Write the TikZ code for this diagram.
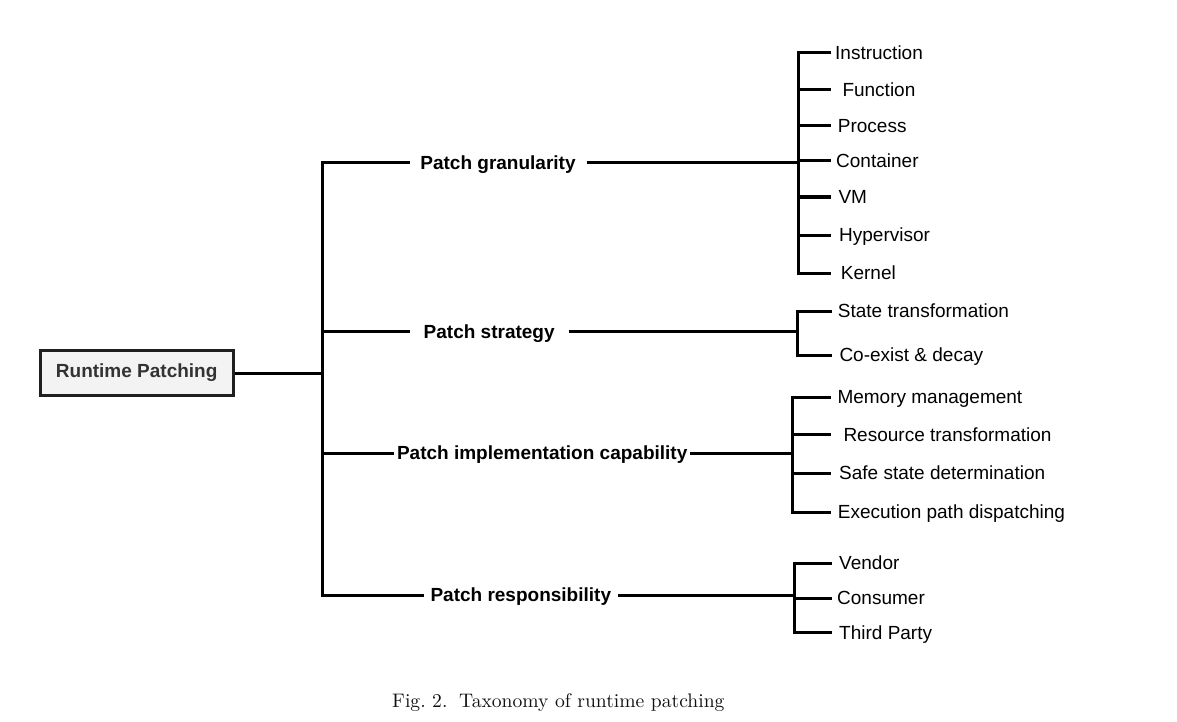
\documentclass[tikz,border=0pt]{standalone}
\usepackage{fontspec}
\setsansfont{Liberation Sans}
\newfontfamily\capfont{lmroman10-regular}[Extension=.otf]
\definecolor{boxfill}{HTML}{F3F3F3}
\definecolor{rootgray}{HTML}{333333}
\definecolor{capcol}{HTML}{111111}
\begin{document}
\begin{tikzpicture}[x=1pt,y=-1pt,
  line/.style={line width=3pt, black},
  cat/.style={font=\sffamily\bfseries\fontsize{19}{22}\selectfont, inner ysep=0pt, text height=13.6pt, text depth=0pt},
  leaf/.style={font=\sffamily\fontsize{19}{22}\selectfont, anchor=west, inner ysep=0pt, inner xsep=#1, text height=13.6pt, text depth=0pt},
  leaf/.default=5pt]
\useasboundingbox (0,0) rectangle (1177,722);

% root
\node[draw=black!88, line width=3pt, fill=boxfill, minimum width=193.3pt, minimum height=45pt,
      inner sep=0pt, text=rootgray, font=\sffamily\bfseries\fontsize{19}{22}\selectfont]
      (root) at (136.7,373) {Runtime Patching};

% category nodes
\node[cat, inner xsep=10.7pt] (c1) at (498,162.5) {Patch granularity};
\node[cat, inner xsep=14pt]   (c2) at (489.2,331.7) {Patch strategy};
\node[cat, inner xsep=2.85pt] (c3) at (542.2,453) {Patch implementation capability};
\node[cat, inner xsep=6.65pt] (c4) at (520.8,595) {Patch responsibility};

% junction x-positions
\coordinate (tk) at (322.3,0);
\coordinate (b1) at (798,0);
\coordinate (b2) at (797.7,0);
\coordinate (b3) at (792.3,0);
\coordinate (b4) at (794,0);

% trunk
\draw[line] (c1.west) -- (c1.west -| tk) -- (c4.west -| tk) -- (c4.west);
\draw[line] (c2.west -| tk) -- (c2.west);
\draw[line] (c3.west -| tk) -- (c3.west);
\draw[line] (root.east) -- (root.east -| tk);

% granularity leaves
\node[leaf=4pt]   (g1) at (831,53)    {Instruction};
\node[leaf=11.3pt](g2) at (831,89.3)  {Function};
\node[leaf=6.7pt] (g3) at (831,126)   {Process};
\node[leaf=5pt]   (g4) at (831,161)   {Container};
\node[leaf=7.3pt] (g5) at (831,197)   {VM};
\node[leaf=8pt]   (g6) at (831,235)   {Hypervisor};
\node[leaf=9.7pt] (g7) at (831,273)   {Kernel};

\draw[line] (c1.east) -- (c1.east -| b1);
\draw[line] (g1.west) -- (g1.west -| b1) -- (g7.west -| b1) -- (g7.west);
\foreach \n in {g2,g3,g4,g5,g6} \draw[line] (\n.west -| b1) -- (\n.west);

% strategy leaves
\node[leaf=5.7pt] (s1) at (832,311)   {State transformation};
\node[leaf=7.3pt] (s2) at (832,355)   {Co-exist \& decay};

\draw[line] (c2.east) -- (c2.east -| b2);
\draw[line] (s1.west) -- (s1.west -| b2) -- (s2.west -| b2) -- (s2.west);

% implementation leaves
\node[leaf=6.3pt]  (m1) at (831,397)   {Memory management};
\node[leaf=12.3pt] (m2) at (831,434.5) {Resource transformation};
\node[leaf=8pt]    (m3) at (831,473)   {Safe state determination};
\node[leaf=6.7pt]  (m4) at (831,512)   {Execution path dispatching};

\draw[line] (c3.east) -- (c3.east -| b3);
\draw[line] (m1.west) -- (m1.west -| b3) -- (m4.west -| b3) -- (m4.west);
\foreach \n in {m2,m3} \draw[line] (\n.west -| b3) -- (\n.west);

% responsibility leaves
\node[leaf=7.3pt] (r1) at (831.7,563)   {Vendor};
\node[leaf=5.3pt] (r2) at (831.7,598)   {Consumer};
\node[leaf=7.3pt] (r3) at (831.7,632.5) {Third Party};

\draw[line] (c4.east) -- (c4.east -| b4);
\draw[line] (r1.west) -- (r1.west -| b4) -- (r3.west -| b4) -- (r3.west);
\draw[line] (r2.west -| b4) -- (r2.west);

% caption
\node[anchor=west, inner sep=0pt, text=capcol, font=\capfont\fontsize{19.6}{22}\selectfont,
      text height=12.5pt, text depth=0pt] (cap) at (392,701.5)
      {Fig.~2.\hspace{0.6em}Taxonomy of runtime patching};
\end{tikzpicture}
\end{document}
